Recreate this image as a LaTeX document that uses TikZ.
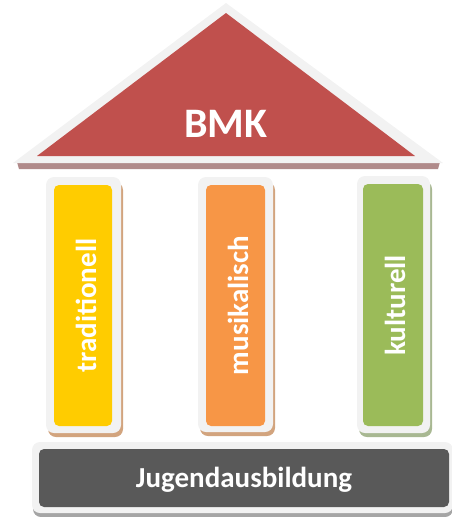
\documentclass[tikz,border=0pt]{standalone}
\usepackage{fontspec}
\setmainfont{Carlito}
\definecolor{rimgray}{HTML}{F2F2F2}
\definecolor{roofred}{HTML}{C0504D}
\definecolor{roofshade}{RGB}{176,138,138}
\definecolor{pyellow}{HTML}{FFCC00}
\definecolor{porange}{HTML}{F79646}
\definecolor{pgreen}{HTML}{9BBB59}
\definecolor{tanshade}{RGB}{210,164,126}
\definecolor{greenshade}{RGB}{168,184,146}
\definecolor{basegray}{HTML}{595959}
\definecolor{baseshade}{RGB}{165,165,165}
\tikzset{
  rim/.style={fill=rimgray, rounded corners=8pt},
  core/.style={rounded corners=5pt},
  label/.style={text=white, font=\bfseries\fontsize{29}{32}\selectfont, inner sep=0pt},
  vlabel/.style={label, rotate=90}
}
\begin{document}
\begin{tikzpicture}[x=1pt,y=-1pt]
\useasboundingbox (0,0) rectangle (452,517);
% roof
\fill[roofshade] (17,162) -- (440,162) -- (438,169) -- (19,169) -- cycle;
\fill[rimgray] (13,163) -- (226,3) -- (443,163) -- cycle;
\fill[roofred] (37,156) -- (226,13) -- (415,156) -- cycle;
\node[label, font=\bfseries\fontsize{42}{46}\selectfont] (bmk) at (226,124) {BMK};
% pillar 1
\fill[tanshade, rounded corners=8pt] (48,182) rectangle (123,437);
\fill[rim] (46,177) rectangle (121,433);
\fill[pyellow, core] (54,185) rectangle (112,426);
\node[vlabel] (trad) at (86,305.5) {traditionell};
% pillar 2
\fill[tanshade, rounded corners=8pt] (200,182) rectangle (275,436);
\fill[rim] (198,177) rectangle (273,432);
\fill[porange, core] (206,185) rectangle (265,426);
\node[vlabel] (musik) at (238,305.5) {musikalisch};
% pillar 3
\fill[greenshade, rounded corners=8pt] (359,181) rectangle (432,437);
\fill[rim] (357,176) rectangle (430,433);
\fill[pgreen, core] (363,184) rectangle (423,426);
\node[vlabel] (kult) at (395,305.5) {kulturell};
% base
\fill[baseshade, rounded corners=8pt] (33,446) rectangle (453,517);
\fill[rim] (32,442) rectangle (453,513);
\fill[basegray, core] (39,449) rectangle (449,507);
\node[label] (jugend) at (244,480) {Jugendausbildung};
\end{tikzpicture}
\end{document}
